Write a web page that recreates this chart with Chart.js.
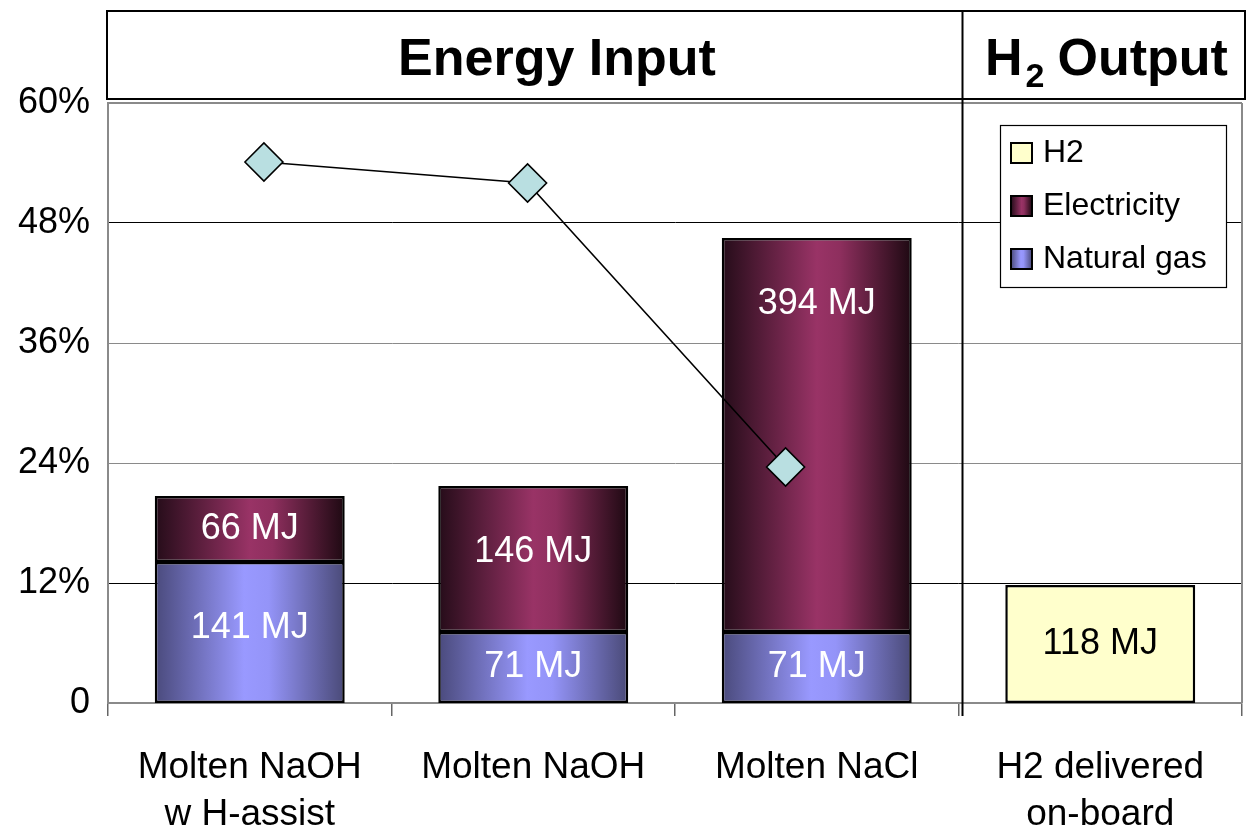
<!DOCTYPE html>
<html>
<head>
<meta charset="utf-8">
<script src="https://cdn.jsdelivr.net/npm/chart.js@4/dist/chart.umd.min.js"></script>
<style>
html,body{margin:0;padding:0;background:#fff;}
#wrap{width:1250px;height:829px;position:relative;}
</style>
</head>
<body>
<div id="wrap"><canvas id="c" width="1250" height="829"></canvas></div>
<script>
// ---- data ----
const categories = [["Molten NaOH", "w H-assist"], ["Molten NaOH"], ["Molten NaCl"], ["H2 delivered", "on-board"]];
const naturalGasMJ = [141, 71, 71, null];
const electricityMJ = [66, 146, 394, null];
const h2MJ = [null, null, null, 118];
const efficiencyPct = [54.1, 52.0, 23.6];
const efficiencyX = [0.55, 1.48, 2.39];
const yTicks = [0, 12, 24, 36, 48, 60];
const headerLeft = "Energy Input";
const headerRight = "Output";

const FONT = '"Liberation Sans", Arial, sans-serif';
const toPct = a => a.map(v => v === null ? null : v / 10);

const gasStops = [[0, '#4a4a7c'], [0.47, '#9999ff'], [0.6, '#9494f8'], [1, '#4a4a78']];
const elecStops = [[0, '#250c19'], [0.5, '#993366'], [0.62, '#8e2f5e'], [1, '#1e0912']];

function makeGrad(ctx2d, x0, x1, stops) {
  const g = ctx2d.createLinearGradient(x0, 0, x1, 0);
  stops.forEach(s => g.addColorStop(s[0], s[1]));
  return g;
}
function barGradient(stops) {
  return function (context) {
    const chart = context.chart;
    if (!chart.chartArea || context.dataIndex === undefined) return stops[1][1];
    const xs = chart.scales.x;
    const cx = xs.getPixelForValue(context.dataIndex);
    const w = (xs.width / categories.length) * 0.67;
    return makeGrad(chart.ctx, cx - w / 2, cx + w / 2, stops);
  };
}

const gridColors = ['#888888', '#000000', '#8a8a8a', '#8a8a8a', '#000000', '#8a8a8a'];

const decorPlugin = {
  id: 'decor',
  afterDraw(chart) {
    const c = chart.ctx;
    const ca = chart.chartArea;
    const xs = chart.scales.x;
    const catW = xs.width / categories.length;
    const divX = ca.left + catW * 3 + 4;
    c.save();
    // right border of plot
    c.strokeStyle = '#8a8a8a'; c.lineWidth = 2;
    c.beginPath(); c.moveTo(ca.right, ca.top); c.lineTo(ca.right, ca.bottom); c.stroke();
    // header box
    c.strokeStyle = '#000'; c.lineWidth = 2;
    c.strokeRect(ca.left - 1, 11, ca.right - ca.left + 4, 88);
    // divider
    c.beginPath(); c.moveTo(divX, 11); c.lineTo(divX, ca.bottom + 13); c.stroke();
    // header text
    c.fillStyle = '#000';
    c.font = 'bold 52px ' + FONT;
    c.textAlign = 'center'; c.textBaseline = 'alphabetic';
    c.fillText(headerLeft, 557, 75);
    c.textAlign = 'left';
    c.fillText('H', 985, 75);
    const hw = c.measureText('H').width;
    c.font = 'bold 34px ' + FONT;
    c.fillText('2', 985 + hw + 3, 87);
    const tw = c.measureText('2').width;
    c.font = 'bold 52px ' + FONT;
    c.fillText(headerRight, 985 + hw + tw + 16, 75);

    // legend
    const lx = 1000, ly = 125, lw = 226, lh = 162;
    c.fillStyle = '#fff'; c.fillRect(lx, ly, lw, lh);
    c.strokeStyle = '#000'; c.lineWidth = 1.2; c.strokeRect(lx + 0.5, ly + 0.5, lw, lh);
    const items = [
      { label: 'H2', fill: '#ffffcc' },
      { label: 'Electricity', stops: elecStops },
      { label: 'Natural gas', stops: gasStops }
    ];
    items.forEach((it, i) => {
      const yy = 153 + i * 53;
      const sx = 1011, sw = 21, sh = 20;
      c.fillStyle = it.fill ? it.fill : makeGrad(c, sx, sx + sw, it.stops);
      c.fillRect(sx, yy - sh / 2, sw, sh);
      c.strokeStyle = '#000'; c.lineWidth = 2;
      c.strokeRect(sx, yy - sh / 2, sw, sh);
      c.fillStyle = '#000';
      c.font = '32px ' + FONT;
      c.textAlign = 'left'; c.textBaseline = 'middle';
      c.fillText(it.label, 1043, yy);
    });

    // bar value labels
    chart.data.datasets.forEach((ds, di) => {
      if (ds.type === 'line') return;
      const meta = chart.getDatasetMeta(di);
      meta.data.forEach((el, i) => {
        const raw = ds.mj[i];
        if (raw === null || raw === undefined) return;
        const p = el.getProps(['x', 'y', 'base'], true);
        const cy = Math.min((p.y + p.base) / 2, p.y + 66);
        c.fillStyle = ds.labelColor;
        c.font = '36px ' + FONT;
        c.textAlign = 'center'; c.textBaseline = 'middle';
        c.fillText(raw + ' MJ', p.x, cy);
      });
    });
    c.restore();
  }
};

new Chart(document.getElementById('c'), {
  type: 'bar',
  data: {
    labels: categories,
    datasets: [
      {
        type: 'bar', label: 'Natural gas', data: toPct(naturalGasMJ), mj: naturalGasMJ,
        backgroundColor: barGradient(gasStops), borderColor: '#000', borderWidth: 2.5,
        labelColor: '#fff', order: 1, stack: 's'
      },
      {
        type: 'bar', label: 'Electricity', data: toPct(electricityMJ), mj: electricityMJ,
        backgroundColor: barGradient(elecStops), borderColor: '#000', borderWidth: 2.5,
        labelColor: '#fff', order: 1, stack: 's'
      },
      {
        type: 'bar', label: 'H2', data: toPct(h2MJ), mj: h2MJ,
        backgroundColor: '#ffffcc', borderColor: '#000', borderWidth: 2.5,
        labelColor: '#000', order: 1, stack: 's'
      },
      {
        type: 'line', label: 'Efficiency', xAxisID: 'x2', yAxisID: 'y2', stack: 'e',
        data: efficiencyX.map((x, i) => ({ x: x, y: efficiencyPct[i] })),
        borderColor: '#000', borderWidth: 1.6, pointStyle: 'rectRot', pointRadius: 19,
        pointBackgroundColor: '#b9dfe1', pointBorderColor: '#000', pointBorderWidth: 1.6,
        order: 0, tension: 0
      }
    ]
  },
  options: {
    responsive: false,
    animation: false,
    devicePixelRatio: 1,
    layout: { autoPadding: false, padding: { top: 103, right: 8, left: 0, bottom: 0 } },
    datasets: { bar: { barPercentage: 0.67, categoryPercentage: 1.0, borderSkipped: false, grouped: false } },
    plugins: { legend: { display: false }, tooltip: { enabled: false } },
    scales: {
      x: {
        type: 'category', stacked: true, offset: true,
        grid: { offset: true, drawOnChartArea: false, color: '#666', tickLength: 13, lineWidth: 1.5 },
        border: { color: '#8a8a8a', width: 2 },
        ticks: { color: '#000', font: { family: FONT, size: 37, lineHeight: 1.27 }, padding: 28, maxRotation: 0, autoSkip: false },
        afterFit(s) { s.height = 126; }
      },
      x2: { type: 'linear', min: 0, max: 4, display: false, offset: false },
      y2: { type: 'linear', min: 0, max: 60, display: false, offset: false },
      y: {
        stacked: true, min: 0, max: 60,
        afterBuildTicks(s) { s.ticks = yTicks.map(v => ({ value: v })); },
        grid: { color: ctx => gridColors[ctx.index] || '#888', lineWidth: ctx => ctx.index === 5 ? 2 : 1, drawTicks: false },
        border: { color: '#8a8a8a', width: 2 },
        ticks: {
          color: '#000', font: { family: FONT, size: 36 }, padding: 18,
          callback: v => v === 0 ? '0' : v + '%'
        },
        afterFit(s) { s.width = 108; }
      }
    }
  },
  plugins: [decorPlugin]
});
</script>
</body>
</html>
